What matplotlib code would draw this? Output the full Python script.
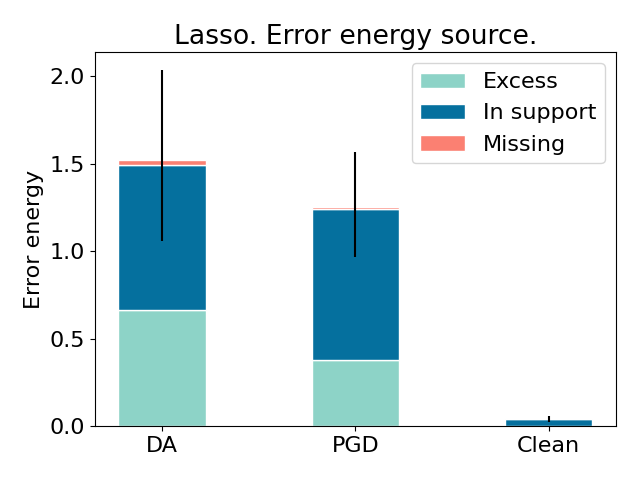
import matplotlib
matplotlib.use('Agg')
import matplotlib.pyplot as plt
import numpy as np

methods = ['DA', 'PGD', 'Clean']
excess = [0.663, 0.377, 0.0]
in_support = [0.830, 0.865, 0.040]
missing = [0.027, 0.009, 0.0]
err_center = [1.546, 1.266, 0.042]
err_size = [0.489, 0.300, 0.015]

plt.rcParams['font.size'] = 16

fig, ax = plt.subplots(figsize=(6.4, 4.8), dpi=100)
x = np.arange(len(methods))
w = 0.45
excess = np.array(excess)
in_support = np.array(in_support)
missing = np.array(missing)

ax.bar(x, excess, w, color='#8dd3c7', edgecolor='white', label='Excess')
ax.bar(x, in_support, w, bottom=excess, color='#05709e', edgecolor='white', label='In support')
ax.bar(x, missing, w, bottom=excess + in_support, color='#fb8072', edgecolor='white', label='Missing')
ax.errorbar(x, err_center, yerr=err_size, fmt='none', ecolor='black', elinewidth=1.5)

ax.set_xticks(x)
ax.set_xticklabels(methods)
ax.set_ylabel('Error energy')
ax.set_title('Lasso. Error energy source.')
ax.spines['top'].set_visible(True)
ax.legend(loc='upper right')
plt.tight_layout()
plt.savefig('out.png')
